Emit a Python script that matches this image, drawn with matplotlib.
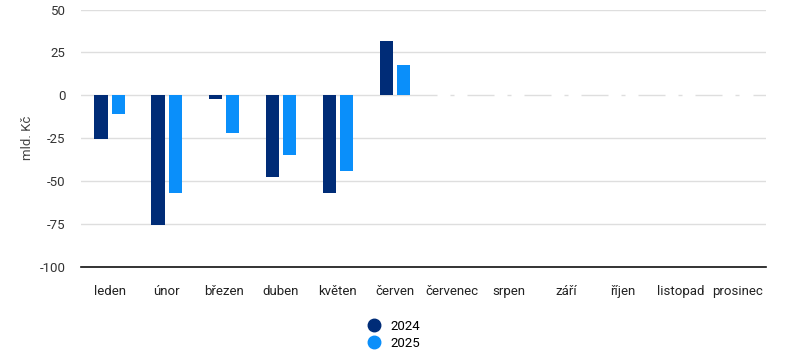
import matplotlib.pyplot as plt
from matplotlib.lines import Line2D
import numpy as np

plt.rcParams['font.family'] = ['Roboto', 'DejaVu Sans']

months = ["leden", "únor", "březen", "duben", "květen", "červen",
          "červenec", "srpen", "září", "říjen", "listopad", "prosinec"]
values_2024 = [-25.2, -75.8, -2.1, -47.3, -56.6, 31.4, 0, 0, 0, 0, 0, 0]
values_2025 = [-10.6, -56.6, -21.7, -34.5, -43.8, 17.8, 0, 0, 0, 0, 0, 0]
series_names = ["2024", "2025"]
yticks = [-100, -75, -50, -25, 0, 25, 50]

color_2024 = "#002C77"
color_2025 = "#0A8FFA"

fig = plt.figure(figsize=(7.97, 3.54), dpi=100)
ax = fig.add_axes([0.1016, 0.2458, 0.8594, 0.7272])

x = np.arange(len(months))
bw = 0.23
off = 0.15

# zero-valued bars get a white edge so they cut small gaps in the zero gridline
ax.bar(x - off, values_2024, width=bw, color=color_2024,
       edgecolor=["none" if v else "white" for v in values_2024], linewidth=2.5, zorder=3)
ax.bar(x + off, values_2025, width=bw, color=color_2025,
       edgecolor=["none" if v else "white" for v in values_2025], linewidth=2.5, zorder=3)

ax.set_xlim(-0.5, len(months) - 0.5)
ax.set_ylim(-100, 50)
ax.set_yticks(yticks)
ax.set_yticklabels([str(t) for t in yticks])
ax.set_xticks(x)
ax.set_xticklabels(months)

ax.grid(axis="y", color="#DEDEDE", linewidth=1, zorder=0)
ax.set_axisbelow(True)
for s in ["left", "right", "top"]:
    ax.spines[s].set_visible(False)
ax.spines["bottom"].set_color("#111111")
ax.spines["bottom"].set_linewidth(1.2)
ax.spines["bottom"].set_zorder(4)

ax.tick_params(axis="both", length=0, labelsize=9.5, colors="#222222")
ax.tick_params(axis="x", pad=13)
ax.tick_params(axis="y", pad=11, labelcolor="#333333")

ax.set_ylabel("mld. Kč", fontsize=9.5, color="#444444")
ax.yaxis.set_label_coords(-0.068, 0.5)

handles = [Line2D([], [], marker="o", linestyle="none", markersize=9,
                  markerfacecolor=c, markeredgecolor=c)
           for c in (color_2024, color_2025)]
fig.legend(handles, series_names, loc="center", bbox_to_anchor=(0.49, 0.055),
           frameon=False, ncol=1, fontsize=9.5, handletextpad=0.3,
           labelspacing=0.3, borderpad=0)

fig.savefig("out.png", dpi=100)
